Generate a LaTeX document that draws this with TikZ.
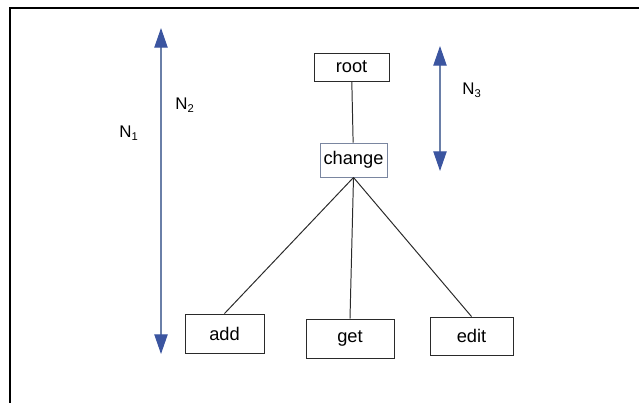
\documentclass[tikz,border=0pt]{standalone}
\usepackage{fontspec}
\setmainfont{Liberation Sans}
\usetikzlibrary{arrows.meta}

\definecolor{arrowblue}{HTML}{3B55A0}
\definecolor{shaftblue}{HTML}{6A7FA8}
\definecolor{boxgray}{HTML}{7A86A0}
\definecolor{linegray}{HTML}{2A2A2A}

\tikzset{
  treebox/.style={draw=linegray, line width=0.65pt, inner sep=0pt,
    font={\fontsize{13}{15}\selectfont}},
  treeline/.style={draw=linegray, line width=0.7pt},
  span/.style={draw=shaftblue, line width=0.8pt,
    {Triangle[length=14pt,width=9.5pt,color=arrowblue]}-{Triangle[length=14pt,width=9.5pt,color=arrowblue]}},
  spanlabel/.style={font={\fontsize{12}{14}\selectfont}}
}

\begin{document}
\begin{tikzpicture}[x=0.025cm, y=-0.025cm]

                % page
                \useasboundingbox (0,0) rectangle (639,403);
                \draw[line width=1pt] (639,8) -- (10,8) -- (10,403);

                % tree
                \node[treebox, minimum width=1.875cm, minimum height=0.7cm]
                (root) at (351.5,67) {root};
                \node[treebox, draw=boxgray, minimum width=1.675cm, minimum height=0.85cm]
                (change) at (353.5,160) {change};
                \node[treebox, minimum width=1.975cm, minimum height=0.975cm]
                (add) at (224.5,333.5) {add};
                \node[treebox, minimum width=2.2cm, minimum height=0.975cm]
                (get) at (350,338.5) {get};
                \node[treebox, minimum width=2.075cm, minimum height=0.95cm]
                (edit) at (471.5,336) {edit};

                \draw[treeline] (root) -- (change);
                \draw[treeline] (change.south) -- (add.north);
                \draw[treeline] (change.south) -- (get.north);
                \draw[treeline] (change.south) -- (edit.north);

                % levels
                \coordinate (n2top) at (161,28);
                \coordinate (n2bot) at (161,354);
                \coordinate (n3top) at (440,46);
                \coordinate (n3bot) at (440,171);
                \draw[span] (n2top) -- (n2bot);
                \draw[span] (n3top) -- (n3bot);

                \node[spanlabel] (n1) at (129,133) {N\textsubscript{1}};
                \node[spanlabel] (n2) at (185,105) {N\textsubscript{2}};
                \node[spanlabel] (n3) at (472,90) {N\textsubscript{3}};

\end{tikzpicture}
\end{document}
